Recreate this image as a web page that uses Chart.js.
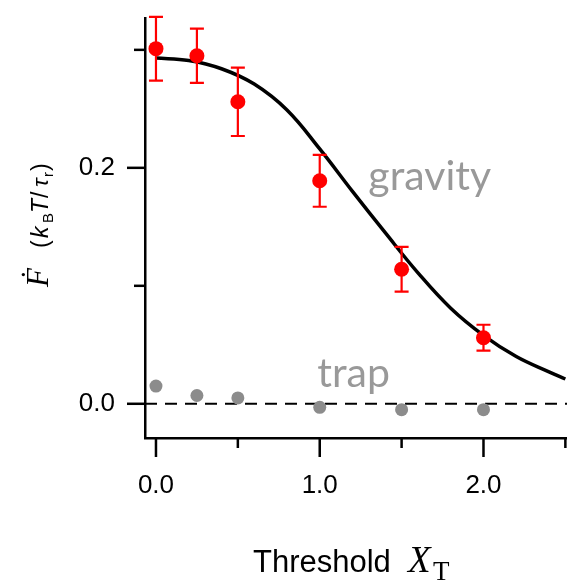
<!DOCTYPE html>
<html>
<head>
<meta charset="utf-8">
<script src="https://cdn.jsdelivr.net/npm/chart.js@4"></script>
<style>
  html, body { margin: 0; padding: 0; background: #fff; }
  #wrap { width: 567px; height: 581px; position: relative; }
</style>
</head>
<body>
<div id="wrap"><canvas id="chart" width="567" height="581"></canvas></div>
<script>
// axis ticks
const xTicks = [0, 0.5, 1.0, 1.5, 2.0, 2.5];
const xTickLabels = ['0.0', '', '1.0', '', '2.0', ''];
const yTicks = [0, 0.1, 0.2, 0.3];
const yTickLabels = ['0.0', '', '0.2', ''];

// measured points
const thresholds = [0, 0.25, 0.5, 1.0, 1.5, 2.0];
const gravityRate = [0.301, 0.295, 0.256, 0.189, 0.114, 0.056];
const gravityErr = [0.027, 0.023, 0.029, 0.022, 0.019, 0.011];
const trapRate = [0.015, 0.007, 0.005, -0.003, -0.005, -0.005];

// fitted curve
const fitX = [0, 0.2, 0.4, 0.6, 0.8, 1.0, 1.2, 1.4, 1.6, 1.8, 2.0, 2.2, 2.4, 2.5];
const fitY = [0.293, 0.291, 0.284, 0.271, 0.249, 0.216, 0.180, 0.145, 0.111, 0.081, 0.058, 0.040, 0.027, 0.021];

const xRange = [-0.067, 2.51];
const yRange = [-0.029, 0.327];

const seriesLabels = [
    { text: 'gravity', x: 1.297, y: 0.181 },
    { text: 'trap', x: 0.985, y: 0.0144 }
];

const SANS = '"Liberation Sans", Arial, sans-serif';
const SERIF = '"Liberation Serif", "DejaVu Serif", serif';

const toXY = (xs, ys) => xs.map((x, i) => ({ x: x, y: ys[i] }));

// runs of mixed-font text; "at" is the offset along the text direction
function drawRuns(ctx, runs) {
    runs.forEach(r => {
        ctx.font = r.font;
        ctx.fillText(r.text, r.at, r.dy || 0);
    });
}

const extrasPlugin = {
    id: 'extras',
    afterDatasetsDraw(chart) {
        const ctx = chart.ctx;
        const xs = chart.scales.x;
        const ys = chart.scales.y;
        const area = chart.chartArea;

        ctx.save();
        // error bars
        ctx.strokeStyle = '#ff0000';
        ctx.lineWidth = 2.2;
        thresholds.forEach((t, i) => {
            const px = xs.getPixelForValue(t);
            const top = ys.getPixelForValue(gravityRate[i] + gravityErr[i]);
            const bot = ys.getPixelForValue(gravityRate[i] - gravityErr[i]);
            ctx.beginPath();
            ctx.moveTo(px, top); ctx.lineTo(px, bot);
            ctx.moveTo(px - 7, top); ctx.lineTo(px + 7, top);
            ctx.moveTo(px - 7, bot); ctx.lineTo(px + 7, bot);
            ctx.stroke();
        });

        // tick marks, long for labelled ones
        ctx.strokeStyle = '#000';
        ctx.lineWidth = 2.5;
        xs.ticks.forEach((tk, i) => {
            const px = xs.getPixelForValue(tk.value);
            const len = xTickLabels[i] ? 19 : 10;
            ctx.beginPath();
            ctx.moveTo(px, area.bottom);
            ctx.lineTo(px, area.bottom + len);
            ctx.stroke();
        });
        ys.ticks.forEach((tk, i) => {
            const py = ys.getPixelForValue(tk.value);
            const len = yTickLabels[i] ? 18 : 11;
            ctx.beginPath();
            ctx.moveTo(area.left, py);
            ctx.lineTo(area.left - len, py);
            ctx.stroke();
        });

        // series names
        ctx.fillStyle = '#999999';
        ctx.font = '41px Lato, "Open Sans", sans-serif';
        ctx.textBaseline = 'alphabetic';
        ctx.textAlign = 'left';
        seriesLabels.forEach(l => {
            ctx.fillText(l.text, xs.getPixelForValue(l.x), ys.getPixelForValue(l.y));
        });

        // x title
        ctx.fillStyle = '#000';
        ctx.save();
        ctx.translate(253, 572);
        drawRuns(ctx, [
            { text: 'Threshold', font: '31px ' + SANS, at: 0 },
            { text: 'X', font: 'italic 37px ' + SERIF, at: 155 },
            { text: 'T', font: '27px ' + SERIF, at: 180, dy: 8 }
        ]);
        ctx.restore();

        // y title, rotated, read bottom to top
        ctx.save();
        ctx.translate(48, 287);
        ctx.rotate(-Math.PI / 2);
        drawRuns(ctx, [
            { text: '\u1E1E', font: 'italic 31px ' + SERIF, at: 0 },
            { text: '(', font: '23px ' + SANS, at: 39 },
            { text: 'k', font: 'italic 23px ' + SANS, at: 49 },
            { text: 'B', font: '15px ' + SANS, at: 64, dy: 5 },
            { text: 'T', font: 'italic 23px ' + SANS, at: 74 },
            { text: '/', font: '23px ' + SANS, at: 89 },
            { text: '\u03C4', font: 'italic 23px ' + SANS, at: 100 },
            { text: 'r', font: '15px ' + SANS, at: 110, dy: 5 },
            { text: ')', font: '23px ' + SANS, at: 116 }
        ]);
        ctx.restore();

        ctx.restore();
    }
};

const ctx = document.getElementById('chart').getContext('2d');
const chart = new Chart(ctx, {
    type: 'scatter',
    data: {
        datasets: [
            {
                label: 'gravity',
                data: toXY(thresholds, gravityRate),
                backgroundColor: '#ff0000',
                borderColor: '#ff0000',
                pointRadius: 7.5,
                pointBorderWidth: 0,
                showLine: false
            },
            {
                label: 'fit',
                data: toXY(fitX, fitY),
                borderColor: '#000',
                borderWidth: 3.5,
                pointRadius: 0,
                showLine: true,
                tension: 0.4
            },
            {
                label: 'trap',
                data: toXY(thresholds, trapRate),
                backgroundColor: '#8c8c8c',
                borderColor: '#8c8c8c',
                pointRadius: 6.5,
                pointBorderWidth: 0,
                showLine: false
            },
            {
                label: 'zero',
                data: [{ x: xRange[0], y: 0 }, { x: xRange[1], y: 0 }],
                borderColor: '#000',
                borderWidth: 2,
                borderDash: [12, 8],
                pointRadius: 0,
                showLine: true
            }
        ]
    },
    options: {
        responsive: false,
        animation: false,
        layout: {
            autoPadding: false,
            padding: { top: 18, right: 0, left: 0, bottom: 0 }
        },
        plugins: {
            legend: { display: false },
            tooltip: { enabled: false }
        },
        scales: {
            x: {
                type: 'linear',
                min: xRange[0],
                max: xRange[1],
                afterBuildTicks: (scale) => { scale.ticks = xTicks.map(v => ({ value: v })); },
                afterFit: (scale) => {
                    scale.height = 143;
                    scale.paddingLeft = 0;
                    scale.paddingRight = 0;
                },
                border: { display: true, color: '#000', width: 2.5 },
                grid: { drawOnChartArea: false, drawTicks: false },
                ticks: {
                    autoSkip: false,
                    maxRotation: 0,
                    padding: 32,
                    color: '#000',
                    font: { family: SANS, size: 26 },
                    callback: (v, i) => xTickLabels[i]
                }
            },
            y: {
                type: 'linear',
                min: yRange[0],
                max: yRange[1],
                afterBuildTicks: (scale) => { scale.ticks = yTicks.map(v => ({ value: v })); },
                afterFit: (scale) => {
                    scale.width = 145;
                    scale.paddingTop = 0;
                    scale.paddingBottom = 0;
                },
                border: { display: true, color: '#000', width: 2.5 },
                grid: { drawOnChartArea: false, drawTicks: false },
                ticks: {
                    autoSkip: false,
                    padding: 30,
                    color: '#000',
                    font: { family: SANS, size: 26 },
                    callback: (v, i) => yTickLabels[i]
                }
            }
        }
    },
    plugins: [extrasPlugin]
});
</script>
</body>
</html>
